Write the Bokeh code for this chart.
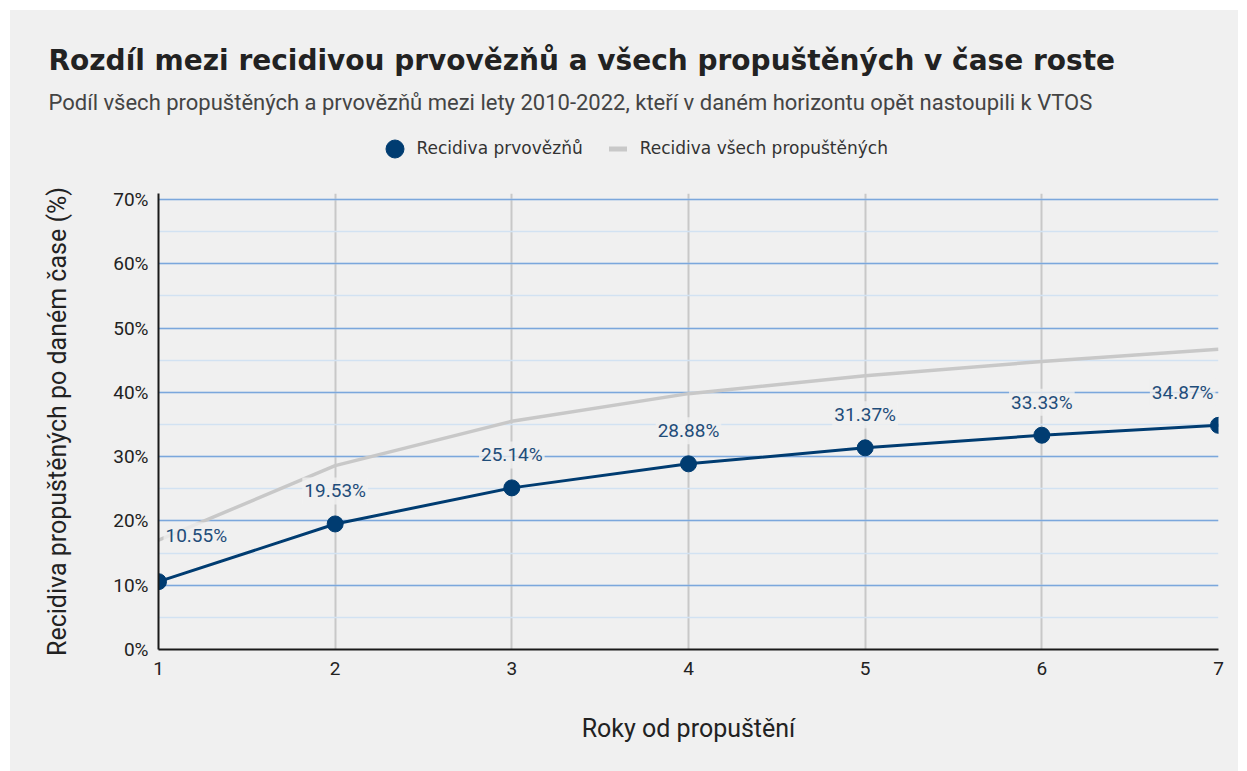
from bokeh.plotting import figure
from bokeh.layouts import column
from bokeh.models import (ColumnDataSource, Range1d, FixedTicker, SingleIntervalTicker,
                          Title, Legend, LegendItem)
from bokeh.core.properties import value
from bokeh.embed import file_html
from bokeh.resources import INLINE

# ---------------- data ----------------
years = [1, 2, 3, 4, 5, 6, 7]
first_offenders = [10.55, 19.53, 25.14, 28.88, 31.37, 33.33, 34.87]
all_released = [17.0, 28.6, 35.5, 39.8, 42.6, 44.8, 46.7]
y_tick_values = [0, 10, 20, 30, 40, 50, 60, 70]
y_tick_labels = ["0%", "10%", "20%", "30%", "40%", "50%", "60%", "70%"]
x_tick_labels = ["1", "2", "3", "4", "5", "6", "7"]

title_text = "Rozdíl mezi recidivou prvovězňů a všech propuštěných v čase roste"
subtitle_text = ("Podíl všech propuštěných a prvovězňů mezi lety 2010-2022, "
                 "kteří v daném horizontu opět nastoupili k VTOS")
legend_first = "Recidiva prvovězňů"
legend_all = "Recidiva všech propuštěných"
x_label = "Roky od propuštění"
y_label = "Recidiva propuštěných po daném čase (%)"

# ---------------- style ----------------
BG = "#f0f0f0"
NAVY = "#003c71"
GRAY = "#c8c8c8"
LABEL_BLUE = "#1f4d7a"
FONT = "Roboto"

PAGE_X, PAGE_Y = 10, 10
W = 1228
HEADER_BOTTOM = 183
FRAME_L, FRAME_R, FRAME_T, FRAME_B = 158, 1218, 193, 649
Y_TOP = 70 + (199 - FRAME_T) / ((FRAME_B - 199) / 70.0)
HDR_FRAME_T = 119

# ---------------- header: title, subtitle (panels) + legend (in frame) ----------------
hdr = figure(width=W, height=HEADER_BOTTOM - PAGE_Y,
             x_range=Range1d(0, 1), y_range=Range1d(0, 1),
             x_axis_type=None, y_axis_type=None,
             output_backend="svg", toolbar_location=None, title=None,
             min_border_left=FRAME_L - PAGE_X, min_border_right=PAGE_X + W - FRAME_R,
             min_border_top=HDR_FRAME_T - PAGE_Y, min_border_bottom=0,
             background_fill_alpha=0, border_fill_color=BG,
             outline_line_color=None, margin=0)
hdr.xgrid.visible = False
hdr.ygrid.visible = False

hdr.add_layout(Title(text=subtitle_text, align="left", offset=48 - FRAME_L,
                     text_font=FONT, text_font_size="22px", text_font_style="normal",
                     text_color="#444444", standoff=10), "above")
hdr.add_layout(Title(text=title_text, align="left", offset=48 - FRAME_L,
                     text_font="DejaVu Sans", text_font_size="28px",
                     text_font_style="bold", text_color="#222222", standoff=12), "above")

dot_key = hdr.scatter(x=[float("nan")], y=[float("nan")], marker="circle",
                      fill_color=NAVY, line_color=NAVY)
dash_key = hdr.scatter(x=[float("nan")], y=[float("nan")], marker="dash",
                       line_color=GRAY, line_width=5)
legend = Legend(items=[LegendItem(label=legend_first, renderers=[dot_key]),
                       LegendItem(label=legend_all, renderers=[dash_key])],
                orientation="horizontal",
                location=(371.5 - FRAME_L, HEADER_BOTTOM - 170.5),
                glyph_width=45, glyph_height=45, label_standoff=0, spacing=12,
                padding=0, margin=0, background_fill_alpha=0,
                border_line_color=None,
                label_text_font="DejaVu Sans", label_text_font_size="17px",
                label_text_color="#333333")
hdr.add_layout(legend, "center")

# ---------------- main chart ----------------
p = figure(width=W, height=771 - HEADER_BOTTOM,
           x_range=Range1d(1, 7), y_range=Range1d(0, Y_TOP),
           output_backend="svg", toolbar_location=None, title=None,
           min_border_left=FRAME_L - PAGE_X, min_border_right=PAGE_X + W - FRAME_R,
           min_border_top=FRAME_T - HEADER_BOTTOM, min_border_bottom=771 - FRAME_B,
           background_fill_alpha=0, border_fill_color=BG,
           outline_line_color=None, margin=0)

p.xgrid.grid_line_color = GRAY
p.xgrid.grid_line_width = 2
p.ygrid.grid_line_color = "#7ba7dc"
p.ygrid.grid_line_width = 1.5
p.ygrid.minor_grid_line_color = "#d2e2f2"
p.ygrid.minor_grid_line_width = 1.5

p.xaxis.ticker = FixedTicker(ticks=years)
p.xaxis.major_label_overrides = {y: t for y, t in zip(years, x_tick_labels)}
p.yaxis.ticker = SingleIntervalTicker(interval=10, num_minor_ticks=2)
p.yaxis.major_label_overrides = {v: t for v, t in zip(y_tick_values, y_tick_labels)}
for ax in (p.xaxis, p.yaxis):
    ax.axis_line_color = "#1a1a1a"
    ax.axis_line_width = 2
    ax.major_tick_line_color = None
    ax.minor_tick_line_color = None
    ax.major_tick_out = 0
    ax.major_tick_in = 0
    ax.minor_tick_out = 0
    ax.major_label_text_font = FONT
    ax.major_label_text_font_size = "19px"
    ax.major_label_text_color = "#222222"
    ax.axis_label_text_font = FONT
    ax.axis_label_text_font_size = "25px"
    ax.axis_label_text_font_style = "normal"
    ax.axis_label_text_color = "#222222"
p.yaxis.major_label_standoff = 10
p.xaxis.major_label_standoff = 12
p.xaxis.axis_label = x_label
p.yaxis.axis_label = y_label
p.xaxis.axis_label_standoff = 36
p.yaxis.axis_label_standoff = 38

p.line(years, all_released, line_color=GRAY, line_width=3.5)
p.line(years, first_offenders, line_color=NAVY, line_width=3)
p.scatter(years, first_offenders, size=16, fill_color=NAVY, line_color=NAVY)

n = len(years)
aligns = ["left"] + ["center"] * (n - 2) + ["right"]
xoffs = [5] + [0] * (n - 2) + [-3]
yoffs = [-46] + [-33] * (n - 1)
lab_src = ColumnDataSource(dict(
    x=years, y=first_offenders,
    text=[f"{v:.2f}%" for v in first_offenders],
    align=aligns, xo=xoffs, yo=yoffs))
p.text(x="x", y="y", text="text", source=lab_src, x_offset="xo", y_offset="yo",
       text_align="align", text_baseline="middle",
       text_font=value(FONT), text_font_size="19px", text_color=LABEL_BLUE,
       background_fill_color=BG, background_fill_alpha=0.8, padding=2)

layout = column(hdr, p, spacing=0, margin=(PAGE_Y, 0, 0, PAGE_X),
                styles={"background-color": BG})
open("out.html", "w").write(file_html(layout, INLINE))
